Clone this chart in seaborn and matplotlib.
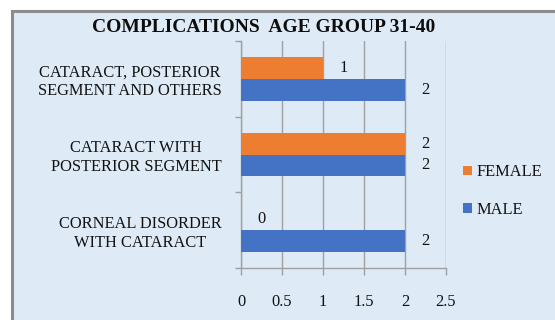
import matplotlib
matplotlib.use("Agg")
import matplotlib.pyplot as plt
import matplotlib.patches as mpatches
import seaborn as sns
import pandas as pd

categories = ["CATARACT, POSTERIOR\nSEGMENT AND OTHERS",
              "CATARACT WITH\nPOSTERIOR SEGMENT",
              "CORNEAL DISORDER\nWITH CATARACT"]
female = [1, 2, 0]
male = [2, 2, 2]
series = ["FEMALE", "MALE"]
xticks = [0, 0.5, 1, 1.5, 2, 2.5]
xticklabels = ["0", "0.5", "1", "1.5", "2", "2.5"]
title = "COMPLICATIONS  AGE GROUP 31-40"

df = pd.DataFrame({
    "category": categories * 2,
    "value": female + male,
    "sex": ["FEMALE"] * 3 + ["MALE"] * 3,
})

sns.set_theme(style="white")
plt.rcParams['font.family'] = ['Liberation Serif', 'DejaVu Serif']

bg = "#DEEAF6"
orange = "#ED7D31"
blue = "#4472C4"
grid = "#A0A0A0"
txt = "#111111"

fig = plt.figure(figsize=(5.55, 3.2), dpi=100)
fig.patch.set_facecolor("white")
# chart area frame
frame = mpatches.Rectangle((11.5 / 555, -0.1), 1.2, (320 - 11.5) / 320 + 0.1,
                           transform=fig.transFigure, facecolor=bg,
                           edgecolor="#8C8C8C", linewidth=2.2, zorder=-10)
fig.patches.append(frame)

ax = fig.add_axes([241 / 555, 1 - 268 / 320, (446 - 241) / 555, (268 - 41) / 320])
ax.set_zorder(1)
ax.set_facecolor("none")

sns.barplot(data=df, y="category", x="value", hue="sex", order=categories,
            hue_order=series, palette=[orange, blue], orient="h",
            width=0.58, ax=ax, saturation=1, legend=True, zorder=3,
            linewidth=0)

ax.set_xlim(0, 2.5)
ax.set_xticks(xticks)
ax.set_xticklabels(xticklabels)
ax.set_xlabel("")
ax.set_ylabel("")
ax.xaxis.grid(True, color=grid, linewidth=1.0, zorder=0)
ax.set_axisbelow(True)
for s in ["top", "right"]:
    ax.spines[s].set_visible(False)
for s in ["left", "bottom"]:
    ax.spines[s].set_color(grid)
    ax.spines[s].set_linewidth(1.0)

ax.set_yticks([-0.5, 0.5, 1.5, 2.5], minor=True)
ax.tick_params(axis="y", which="major", length=0, pad=14, labelsize=11.8, colors=txt)
ax.tick_params(axis="y", which="minor", length=4, width=1, color=grid, left=True)
ax.tick_params(axis="x", which="major", length=5, width=1, color=grid, bottom=True,
               direction="out", pad=14, labelsize=11.8, labelcolor=txt)
for lbl in ax.get_yticklabels():
    lbl.set_multialignment("center")

for cont in ax.containers:
    ax.bar_label(cont, labels=[f"{v:g}" for v in cont.datavalues],
                 padding=12, fontsize=11.8, color=txt)

handles, labels = ax.get_legend_handles_labels()
ax.legend(handles, labels, loc="center left",
          bbox_to_anchor=(463 / 555, 1 - 191 / 320), bbox_transform=fig.transFigure,
          frameon=False, fontsize=11.8, handlelength=0.55, handleheight=0.55,
          handletextpad=0.3, labelspacing=1.3, borderpad=0, borderaxespad=0,
          labelcolor=txt)

fig.text(264 / 555, 1 - 27 / 320, title, ha="center", va="center",
         fontsize=14, fontweight="bold", color="#0d0d0d")

fig.savefig("out.png", dpi=100)
